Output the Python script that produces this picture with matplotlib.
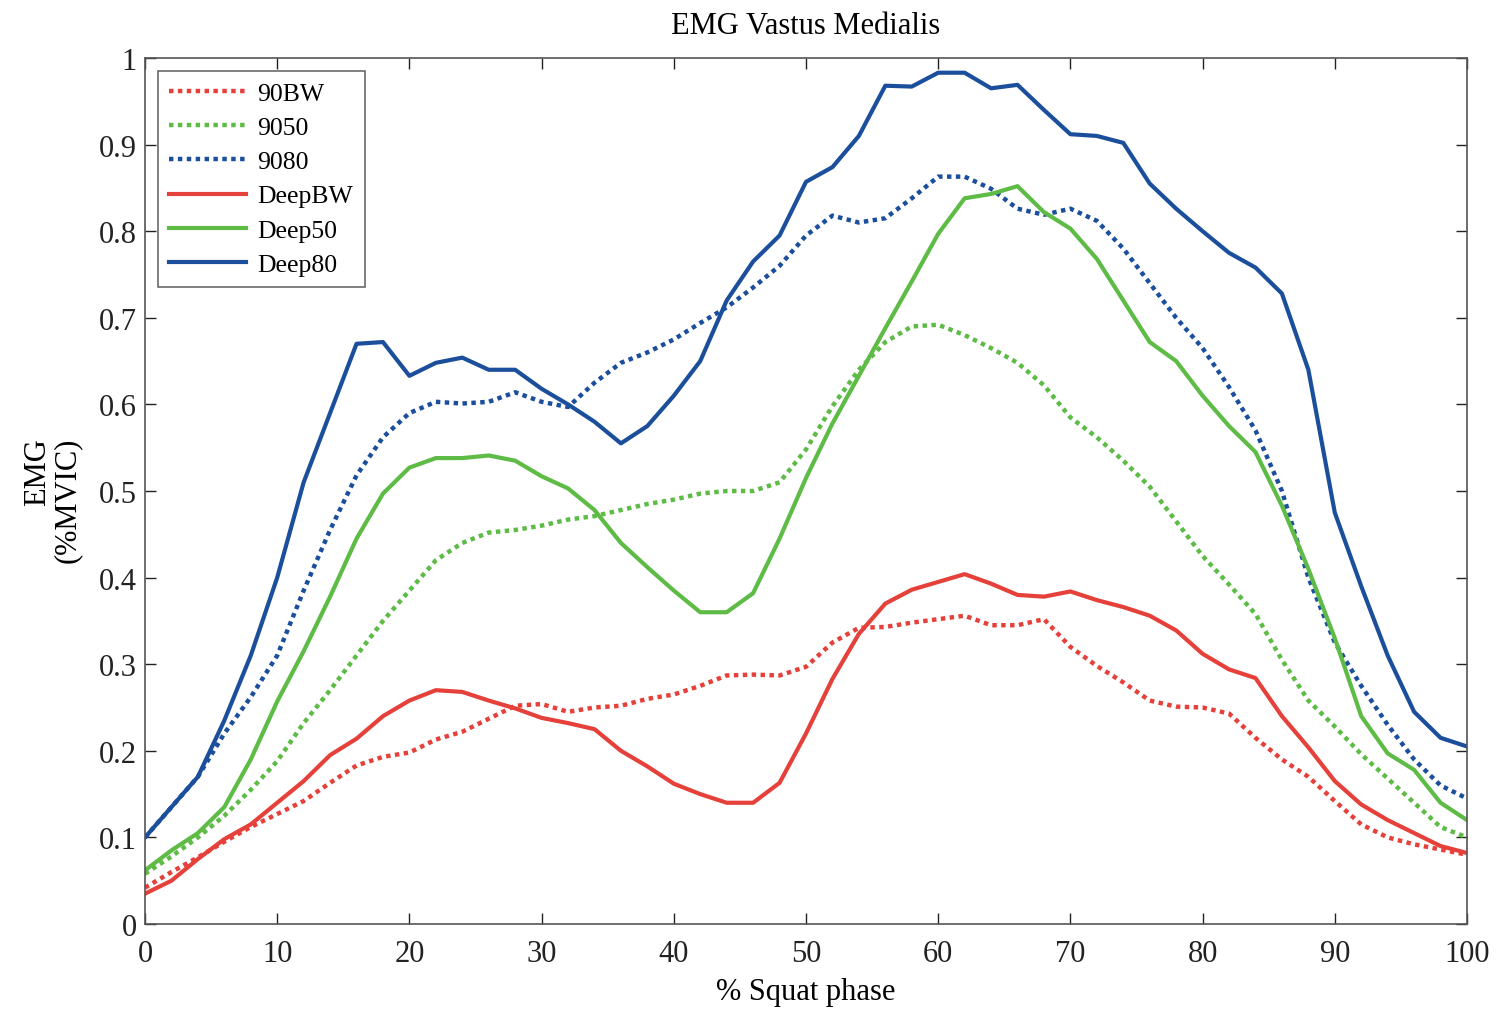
import matplotlib
matplotlib.use("Agg")
import matplotlib.pyplot as plt
import numpy as np

plt.rcParams['font.family'] = ['Liberation Serif', 'DejaVu Serif']

phase = list(range(0, 101, 2))

bw90 = [0.042, 0.06, 0.077, 0.095, 0.112, 0.127, 0.142, 0.163, 0.183, 0.193,
        0.198, 0.213, 0.222, 0.237, 0.252, 0.254, 0.245, 0.25, 0.252, 0.26,
        0.265, 0.275, 0.287, 0.288, 0.287, 0.297, 0.325, 0.342, 0.343, 0.348,
        0.352, 0.356, 0.345, 0.345, 0.352, 0.32, 0.298, 0.279, 0.258, 0.251,
        0.25, 0.243, 0.215, 0.19, 0.17, 0.142, 0.115, 0.1, 0.092, 0.086, 0.08]

s9050 = [0.058, 0.078, 0.10, 0.125, 0.155, 0.188, 0.232, 0.27, 0.31, 0.35,
         0.385, 0.42, 0.44, 0.452, 0.455, 0.46, 0.467, 0.471, 0.478, 0.485,
         0.49, 0.497, 0.50, 0.50, 0.51, 0.548, 0.598, 0.64, 0.672, 0.69,
         0.692, 0.68, 0.665, 0.648, 0.622, 0.585, 0.562, 0.535, 0.505, 0.465,
         0.425, 0.392, 0.358, 0.305, 0.258, 0.228, 0.196, 0.168, 0.14, 0.112, 0.10]

s9080 = [0.10, 0.135, 0.17, 0.22, 0.262, 0.31, 0.385, 0.455, 0.518, 0.562,
         0.59, 0.603, 0.601, 0.603, 0.614, 0.603, 0.597, 0.625, 0.648, 0.66,
         0.675, 0.694, 0.712, 0.735, 0.76, 0.795, 0.818, 0.81, 0.815, 0.838,
         0.863, 0.863, 0.849, 0.826, 0.819, 0.826, 0.812, 0.78, 0.74, 0.70,
         0.665, 0.62, 0.57, 0.50, 0.40, 0.325, 0.275, 0.23, 0.19, 0.16, 0.145]

deep_bw = [0.035, 0.05, 0.075, 0.098, 0.115, 0.14, 0.165, 0.195, 0.214, 0.24,
           0.258, 0.27, 0.268, 0.258, 0.249, 0.238, 0.232, 0.225, 0.2, 0.182,
           0.162, 0.15, 0.14, 0.14, 0.163, 0.22, 0.283, 0.335, 0.37, 0.386,
           0.395, 0.404, 0.393, 0.38, 0.378, 0.384, 0.374, 0.366, 0.356, 0.339,
           0.312, 0.294, 0.284, 0.24, 0.204, 0.165, 0.138, 0.12, 0.105, 0.09, 0.082]

deep50 = [0.062, 0.085, 0.105, 0.135, 0.19, 0.257, 0.315, 0.378, 0.445, 0.497,
          0.527, 0.538, 0.538, 0.541, 0.535, 0.517, 0.503, 0.478, 0.44, 0.412,
          0.385, 0.36, 0.36, 0.382, 0.445, 0.515, 0.578, 0.633, 0.688, 0.742,
          0.797, 0.838, 0.843, 0.852, 0.822, 0.803, 0.768, 0.72, 0.672, 0.65,
          0.61, 0.575, 0.545, 0.483, 0.41, 0.33, 0.24, 0.197, 0.178, 0.14, 0.12]

deep80 = [0.10, 0.135, 0.17, 0.235, 0.31, 0.40, 0.51, 0.59, 0.67, 0.672,
          0.633, 0.648, 0.654, 0.64, 0.64, 0.618, 0.60, 0.58, 0.555, 0.575,
          0.61, 0.65, 0.72, 0.765, 0.795, 0.857, 0.874, 0.91, 0.968, 0.967,
          0.983, 0.983, 0.965, 0.969, 0.94, 0.912, 0.91, 0.902, 0.855, 0.826,
          0.80, 0.775, 0.758, 0.728, 0.64, 0.475, 0.39, 0.31, 0.245, 0.215, 0.205]

labels = ['90BW', '9050', '9080', 'DeepBW', 'Deep50', 'Deep80']
red = '#e5413a'
green = '#5dbb46'
blue = '#1b4f9c'

fig = plt.figure(figsize=(14.98, 10.12), dpi=100)
ax = fig.add_axes([145/1498, 87/1012, 1322/1498, 866/1012])

dot = (0, (1.0, 1.0))
common = dict(solid_joinstyle='round', dash_joinstyle='round')
ax.plot(phase, bw90, color=red, lw=3.2, linestyle=dot, label=labels[0], **common)
ax.plot(phase, s9050, color=green, lw=3.2, linestyle=dot, label=labels[1], **common)
ax.plot(phase, s9080, color=blue, lw=3.2, linestyle=dot, label=labels[2], **common)
ax.plot(phase, deep_bw, color=red, lw=3.0, label=labels[3], **common)
ax.plot(phase, deep50, color=green, lw=3.0, label=labels[4], **common)
ax.plot(phase, deep80, color=blue, lw=3.0, label=labels[5], **common)

ax.set_xlim(0, 100)
ax.set_ylim(0, 1)
ax.set_xticks(range(0, 101, 10))
ax.set_yticks([i / 10 for i in range(11)])
ax.set_yticklabels(['0', '0.1', '0.2', '0.3', '0.4', '0.5', '0.6', '0.7', '0.8', '0.9', '1'])
ax.tick_params(direction='in', length=8, width=1, top=True, right=True,
               labelsize=22, colors='#222222')
ax.tick_params(axis='x', pad=11)
ax.tick_params(axis='y', pad=6)
for s in ax.spines.values():
    s.set_color('#555555')
    s.set_linewidth(1.2)

ax.set_title('EMG Vastus Medialis', fontsize=22, pad=18)
ax.set_xlabel('% Squat phase', fontsize=22, labelpad=6)
ax.set_ylabel('EMG\n(%MVIC)', fontsize=22, linespacing=1.0, multialignment='right')
ax.yaxis.set_label_coords(-0.048, 0.49)

leg = ax.legend(loc='upper left', fontsize=18.5, frameon=True, fancybox=False,
                edgecolor='#444444', handlelength=2.97, labelspacing=0.43,
                borderaxespad=0.5, handletextpad=0.45, borderpad=0.45)
leg.get_frame().set_linewidth(1.2)

fig.savefig('out.png', dpi=100, facecolor='white')
